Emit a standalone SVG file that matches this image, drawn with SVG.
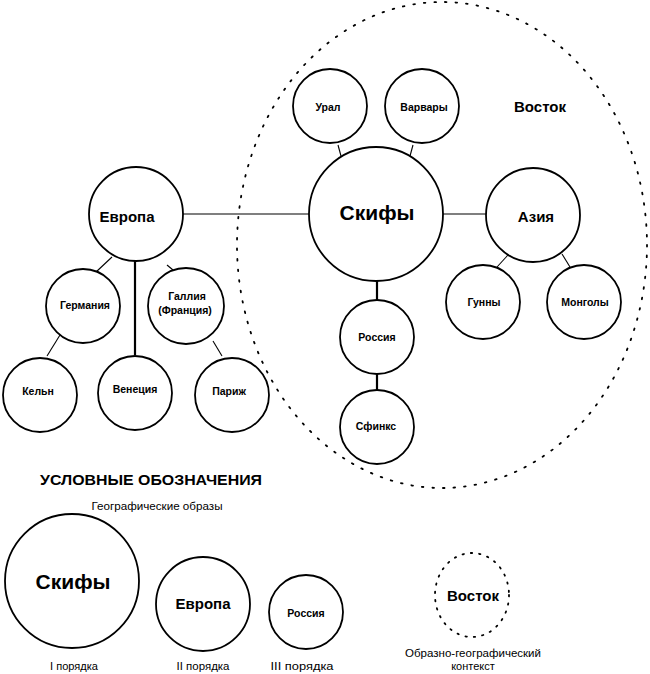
<svg xmlns="http://www.w3.org/2000/svg" width="650" height="674" viewBox="0 0 650 674">
<style>
.n{fill:#fff;stroke:#000;stroke-width:1.8}
.d{fill:none;stroke:#000;stroke-width:1.8;stroke-dasharray:1.6 9;stroke-linecap:round}
.c{stroke:#000;stroke-width:1.1;fill:none}
.ct{stroke:#000;stroke-width:2.2;fill:none}
text{font-family:"Liberation Sans",Arial,sans-serif;fill:#000;text-anchor:middle}
.b1{font-size:21px;font-weight:bold}
.b2{font-size:15px;font-weight:bold}
.b3{font-size:10.5px;font-weight:bold}
.s{font-size:11px}
</style>
<rect width="650" height="674" fill="#fff"/>
<g id="context-vostok">
<ellipse class="d" cx="442" cy="245" rx="205" ry="243"/>
<text class="b2" x="540" y="112">Восток</text>
</g>
<g id="connectors">
<line class="c" x1="183" y1="214" x2="309" y2="214"/>
<line class="c" x1="443" y1="214" x2="487" y2="214"/>
<line class="c" x1="338" y1="145" x2="341" y2="156"/>
<line class="c" x1="413" y1="145" x2="410" y2="156"/>
<line class="c" x1="508" y1="255" x2="497" y2="267"/>
<line class="c" x1="562" y1="254" x2="570" y2="267"/>
<line class="ct" x1="377" y1="281" x2="377" y2="300"/>
<line class="ct" x1="377" y1="374" x2="377" y2="390"/>
<line class="c" x1="112" y1="257" x2="96" y2="272"/>
<line class="ct" x1="135" y1="261" x2="135" y2="355"/>
<line class="c" x1="167" y1="265" x2="173" y2="270"/>
<line class="c" x1="60" y1="335" x2="47" y2="356"/>
<line class="c" x1="213" y1="341" x2="222" y2="356"/>
</g>
<g id="skify"><circle class="n" cx="376" cy="214" r="67"/><text class="b1" x="377" y="220">Скифы</text></g>
<g id="evropa"><circle class="n" cx="136" cy="214" r="47"/><text class="b2" x="127" y="222">Европа</text></g>
<g id="aziya"><circle class="n" cx="533" cy="215" r="47"/><text class="b2" x="536" y="222">Азия</text></g>
<g id="ural"><circle class="n" cx="330" cy="106" r="37"/><text class="b3" x="328" y="111">Урал</text></g>
<g id="varvary"><circle class="n" cx="422" cy="106" r="37"/><text class="b3" x="424" y="111">Варвары</text></g>
<g id="gunny"><circle class="n" cx="483" cy="302" r="37"/><text class="b3" x="484" y="306">Гунны</text></g>
<g id="mongoly"><circle class="n" cx="584" cy="302" r="37"/><text class="b3" x="585" y="306">Монголы</text></g>
<g id="rossiya"><circle class="n" cx="377" cy="337" r="37"/><text class="b3" x="377" y="341">Россия</text></g>
<g id="sfinks"><circle class="n" cx="377" cy="427" r="37"/><text class="b3" x="376" y="430">Сфинкс</text></g>
<g id="germaniya"><circle class="n" cx="83" cy="306" r="37"/><text class="b3" x="85" y="309">Германия</text></g>
<g id="galliya"><circle class="n" cx="186" cy="306" r="38"/><text class="b3" x="187" y="300">Галлия</text><text class="b3" x="185" y="314">(Франция)</text></g>
<g id="keln"><circle class="n" cx="40" cy="395" r="37"/><text class="b3" x="38" y="395">Кельн</text></g>
<g id="venetsiya"><circle class="n" cx="135" cy="393" r="37"/><text class="b3" x="135" y="393">Венеция</text></g>
<g id="parizh"><circle class="n" cx="232" cy="395" r="37"/><text class="b3" x="229" y="395">Париж</text></g>
<g id="legend">
<text class="b2" x="151" y="485" textLength="222" lengthAdjust="spacingAndGlyphs">УСЛОВНЫЕ ОБОЗНАЧЕНИЯ</text>
<text class="s" x="157" y="510" textLength="131" lengthAdjust="spacingAndGlyphs">Географические образы</text>
<g id="legend-1"><circle class="n" cx="72" cy="581" r="67"/><text class="b1" x="73" y="589">Скифы</text><text class="s" x="74" y="670" textLength="48" lengthAdjust="spacingAndGlyphs">I порядка</text></g>
<g id="legend-2"><circle class="n" cx="203" cy="604" r="47"/><text class="b2" x="203" y="609">Европа</text><text class="s" x="203" y="670" textLength="53" lengthAdjust="spacingAndGlyphs">II порядка</text></g>
<g id="legend-3"><circle class="n" cx="306" cy="612" r="37"/><text class="b3" x="306" y="617">Россия</text><text class="s" x="302" y="670" textLength="63" lengthAdjust="spacingAndGlyphs">III порядка</text></g>
<g id="legend-context"><ellipse class="d" cx="472" cy="595" rx="37" ry="42" style="stroke-dasharray:1.4 7"/><text class="b2" x="473" y="601">Восток</text><text class="s" x="473" y="657" textLength="136" lengthAdjust="spacingAndGlyphs">Образно-географический</text><text class="s" x="473" y="670">контекст</text></g>
</g>
</svg>
